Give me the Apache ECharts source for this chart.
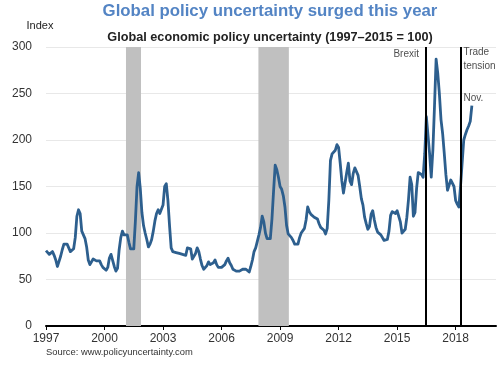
<!DOCTYPE html>
<html>
<head>
<meta charset="utf-8">
<script src="https://cdn.jsdelivr.net/npm/echarts@6/dist/echarts.min.js"></script>
<style>html,body{margin:0;padding:0;background:#fff;}#c{width:500px;height:365px;}</style>
</head>
<body>
<div id="c"></div>
<script>
// Monthly Global EPU index, Jan 1997 - Nov 2018
const startYear = 1997;
const values = [
  81, 80, 77, 77, 80, 76, 71, 64, 66, 75, 82, 88,          // 1997
  89, 88, 84, 80, 78, 83, 95, 118, 125, 121, 102, 98,      // 1998
  94, 85, 71, 66, 68, 72, 71, 70, 69, 70, 66, 63,          // 1999
  62, 60, 63, 73, 77, 76, 64, 59, 62, 82, 95, 102,         // 2000
  98, 100, 98, 90, 83, 82, 83, 113, 150, 165, 148, 122,    // 2001
  108, 100, 93, 85, 88, 93, 102, 113, 121, 125, 121, 122,  // 2002
  130, 150, 153, 135, 108, 84, 80, 78, 79, 79, 78, 77,     // 2003
  77, 76, 76, 84, 84, 83, 72, 72, 78, 84, 80, 72,          // 2004
  65, 61, 60, 65, 69, 66, 64, 68, 71, 66, 63, 65,          // 2005
  63, 62, 66, 70, 73, 68, 65, 61, 60, 59, 58, 59,          // 2006
  60, 61, 62, 61, 60, 58, 64, 71, 80, 84, 85, 98,          // 2007
  106, 118, 112, 100, 94, 92, 94, 115, 145, 173, 168, 160, // 2008
  150, 147, 140, 128, 108, 99, 97, 95, 92, 88, 86, 88,     // 2009
  95, 100, 99, 105, 114, 128, 123, 120, 119, 117, 116, 115,// 2010
  110, 106, 105, 103, 99, 105, 135, 178, 185, 187, 189, 195,// 2011
  192, 175, 156, 143, 145, 165, 175, 156, 152, 164, 170, 171,// 2012
  162, 150, 137, 130, 117, 110, 104, 107, 120, 124, 114, 106,// 2013
  101, 100, 98, 100, 92, 92, 93, 102, 119, 123, 122, 121,  // 2014
  124, 118, 112, 100, 101, 104, 117, 136, 160, 152, 118, 122,// 2015
  148, 165, 166, 163, 160, 185, 225, 223, 185, 160, 189, 236,// 2016
  287, 272, 250, 222, 207, 186, 163, 146, 144, 157, 159, 150,// 2017
  135, 131, 128, 150, 175, 200, 206, 211, 215, 220, 237      // 2018 (Jan-Nov)
];
const yTicks = [0, 50, 100, 150, 200, 250, 300];
const xTickYears = [1997, 2000, 2003, 2006, 2009, 2012, 2015, 2018];
// Recessions (shaded), in fractional years
const recessions = [[2001.10, 2001.87], [2007.89, 2009.45]];
// Events (vertical lines)
const eventYears = [2016.45, 2018.25];
// Annotations: [label, x (year), y (index), side]
const annotations = [
  ['Brexit', 2016.12, 292, 'left'],
  ['Trade\ntension', 2018.40, 287, 'right'],
  ['Nov.', 2018.40, 245, 'right']
];

const lineData = values.map((v, i) => [startYear + i / 12, v]);
const FF = 'Liberation Sans, Arial, sans-serif';

const chart = echarts.init(document.getElementById('c'), null, {renderer: 'canvas'});
chart.setOption({
  animation: false,
  backgroundColor: '#fff',
  textStyle: {fontFamily: FF},
  title: [
    {text: 'Global policy uncertainty surged this year', left: 270, top: 3, textAlign: 'center', padding: 0,
     textStyle: {fontSize: 16.8, fontWeight: 'bold', color: '#5384c4', fontFamily: FF}},
    {text: 'Global economic policy uncertainty (1997\u20132015 = 100)', left: 270, top: 31, textAlign: 'center', padding: 0,
     textStyle: {fontSize: 12.7, fontWeight: 'bold', color: '#222', fontFamily: FF}},
    {text: 'Source: www.policyuncertainty.com', left: 46, top: 348, padding: 0,
     textStyle: {fontSize: 9.4, fontWeight: 'normal', color: '#333', fontFamily: FF}}
  ],
  grid: {left: 46, right: 4, top: 47, bottom: 39, containLabel: false},
  xAxis: {
    type: 'value', min: 1997, max: 2020.07, interval: 3,
    axisLine: {show: true, lineStyle: {color: '#000', width: 2}},
    axisTick: {show: true, length: 4, lineStyle: {color: '#000', width: 1}},
    axisLabel: {fontSize: 12, color: '#333', margin: 7, showMaxLabel: false,
      formatter: v => (xTickYears.indexOf(Math.round(v)) >= 0 && Math.abs(v - Math.round(v)) < 1e-6) ? String(Math.round(v)) : ''},
    splitLine: {show: false}
  },
  yAxis: {
    type: 'value', min: yTicks[0], max: yTicks[yTicks.length - 1], interval: 50,
    name: 'Index', nameLocation: 'end', nameGap: 16,
    nameTextStyle: {fontSize: 11, color: '#222', align: 'center', padding: [0, 12, 0, 0]},
    axisLine: {show: false}, axisTick: {show: false},
    axisLabel: {fontSize: 12, color: '#333', margin: 14},
    splitLine: {show: true, lineStyle: {color: '#e8e8e8', width: 1}}
  },
  series: [
    {
      type: 'line', data: lineData, showSymbol: false, smooth: false,
      lineStyle: {color: '#2d5f8e', width: 2.8, join: 'round'},
      z: 3,
      markArea: {
        silent: true,
        itemStyle: {color: '#c0c0c0'},
        data: recessions.map(r => [{xAxis: r[0]}, {xAxis: r[1]}])
      },
      markLine: {
        silent: true, symbol: 'none', label: {show: false},
        lineStyle: {color: '#000', width: 2, type: 'solid'},
        data: eventYears.map(x => ({xAxis: x}))
      }
    },
    {
      type: 'scatter', symbolSize: 0, silent: true,
      data: annotations.map(a => ({name: a[0], value: [a[1], a[2]],
        label: {show: true, formatter: '{b}', position: a[3], distance: 0,
          fontSize: 10, color: '#222', lineHeight: 14}}))
    }
  ]
});
</script>
</body>
</html>
